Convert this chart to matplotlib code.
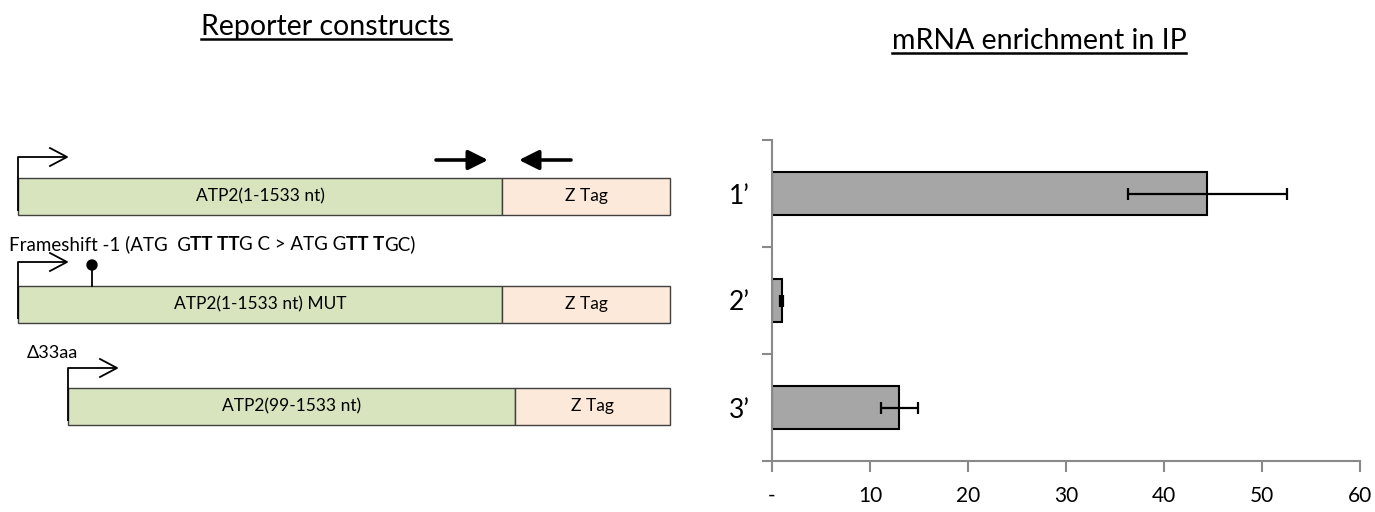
import matplotlib
matplotlib.use('Agg')
import matplotlib.pyplot as plt
from matplotlib.patches import Rectangle, Circle
from matplotlib.lines import Line2D

plt.rcParams['font.family'] = ['Lato', 'DejaVu Sans']

# --- IP enrichment (fold) ---
cats = ['1’', '2’', '3’']
enrich = [44.4, 1.0, 13.0]
enrich_err = [8.1, 0.15, 1.9]
xticks = [0, 10, 20, 30, 40, 50, 60]
xticklabels = ['-', '10', '20', '30', '40', '50', '60']

# --- reporter constructs (schematic, pixel units) ---
gene_labels = ['ATP2(1-1533 nt)', 'ATP2(1-1533 nt) MUT', 'ATP2(99-1533 nt)']
tag_label = 'Z Tag'
box_x0 = [18, 18, 68]
box_split = [502, 502, 515]
box_x1 = [670, 670, 670]
box_top = [178, 286, 388]
box_h = 37
prom_y = [157, 262, 368]

green = '#d7e4bd'
peach = '#fde9d9'

fig = plt.figure(figsize=(13.75, 5.12), dpi=100)
ax0 = fig.add_axes([0, 0, 1, 1])
ax0.set_xlim(0, 1375); ax0.set_ylim(512, 0)
ax0.axis('off')

for i in range(3):
    x0, xs, x1, y0 = box_x0[i], box_split[i], box_x1[i], box_top[i]
    ax0.add_patch(Rectangle((x0, y0), xs-x0, box_h, fc=green, ec='#404040', lw=1))
    ax0.add_patch(Rectangle((xs, y0), x1-xs, box_h, fc=peach, ec='#404040', lw=1))
    ax0.text((x0+xs)/2, y0+box_h/2, gene_labels[i], ha='center', va='center', fontsize=12.5)
    ax0.text((xs+x1)/2, y0+box_h/2, tag_label, ha='center', va='center', fontsize=12.5)
    # promoter arrow
    py = prom_y[i]
    tip = x0 + 49
    ax0.plot([x0, x0, tip], [y0+box_h-4, py, py], color='k', lw=1.3, solid_capstyle='butt')
    ax0.plot([tip-17, tip, tip-17], [py-9, py, py+9], color='k', lw=1.3)

# qPCR primers
ax0.annotate('', xy=(488, 160), xytext=(436, 160),
             arrowprops=dict(arrowstyle='-|>,head_length=0.6,head_width=0.3',
                             lw=2.6, color='k', mutation_scale=20, shrinkA=0, shrinkB=0))
ax0.annotate('', xy=(519, 160), xytext=(571, 160),
             arrowprops=dict(arrowstyle='-|>,head_length=0.6,head_width=0.3',
                             lw=2.6, color='k', mutation_scale=20, shrinkA=0, shrinkB=0))

# frameshift mark
ax0.plot([92, 92], [box_top[1], 266], color='k', lw=1.3)
ax0.add_patch(Circle((92, 265), 5, fc='k', ec='k'))

ax0.text(27, 353, 'Δ33aa', ha='left', va='center', fontsize=13)

# frameshift label with bold nucleotides
pieces = [('Frameshift -1 (ATG  G', 'normal'), ('TT TT', 'bold'), ('G C > ATG G', 'normal'),
          ('TT T', 'bold'), ('GC)', 'normal')]
fig.canvas.draw()
r = fig.canvas.get_renderer()
xpos = 9
for s, w in pieces:
    t = ax0.text(xpos, 250, s, ha='left', va='baseline', fontsize=13.5, fontweight=w)
    bb = t.get_window_extent(renderer=r)
    xpos += bb.width - 0.5

# --- bar chart ---
ax = fig.add_axes([772/1375, 1-461/512, 588/1375, 321/512])
ax.barh(range(len(cats)), enrich, height=0.4, xerr=enrich_err, color='#a6a6a6',
        edgecolor='k', lw=1.5,
        error_kw=dict(ecolor='k', elinewidth=1.6, capsize=4, capthick=1.6))
ax.set_ylim(2.5, -0.5)
ax.set_xlim(0, 60)
for s in ['top', 'right']:
    ax.spines[s].set_visible(False)
for s in ['left', 'bottom']:
    ax.spines[s].set_color('#898989')
    ax.spines[s].set_linewidth(1.5)
ax.set_yticks(range(len(cats)))
ax.set_yticklabels(cats, fontsize=19)
ax.tick_params(axis='y', which='major', length=0, pad=16)
ax.set_yticks([-0.5, 0.5, 1.5, 2.5], minor=True)
ax.tick_params(axis='y', which='minor', length=7, width=1.5, color='#898989')
ax.set_xticks(xticks)
ax.set_xticklabels(xticklabels, fontsize=15)
ax.tick_params(axis='x', length=8, width=1.5, color='#898989', pad=10)

# titles, underlined
titles = [('Reporter constructs', 326, 27), ('mRNA enrichment in IP', 1039, 41)]
fig.canvas.draw()
for s, x, y in titles:
    t = fig.text(x/1375, 1-y/512, s, ha='center', va='center', fontsize=20.5)
    bb = t.get_window_extent(renderer=fig.canvas.get_renderer())
    (fx0, fy0), (fx1, _) = fig.transFigure.inverted().transform([(bb.x0, bb.y0+1), (bb.x1, bb.y0)])
    fig.add_artist(Line2D([fx0, fx1], [fy0, fy0], color='k', lw=1.8, transform=fig.transFigure))

fig.savefig('out.png', dpi=100)
